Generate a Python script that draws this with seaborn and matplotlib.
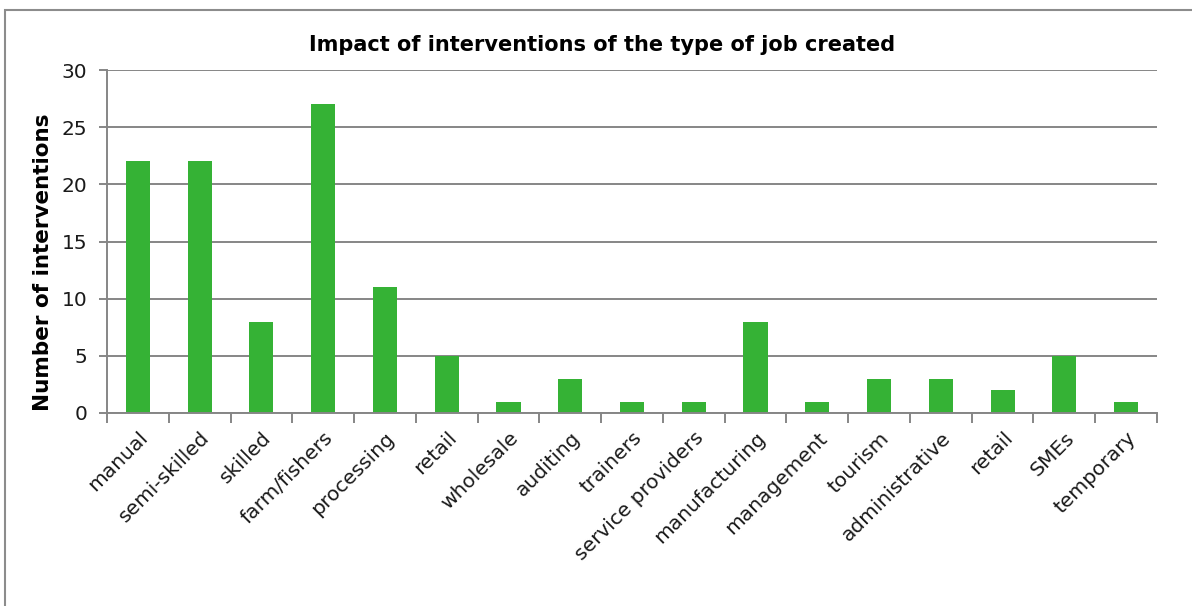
import matplotlib
matplotlib.use("Agg")
import matplotlib.pyplot as plt
import matplotlib.patches as mpatches
import seaborn as sns
import numpy as np
import pandas as pd

categories = ["manual", "semi-skilled", "skilled", "farm/fishers", "processing",
              "retail", "wholesale", "auditing", "trainers", "service providers",
              "manufacturing", "management", "tourism", "administrative", "retail",
              "SMEs", "temporary"]
counts = [22, 22, 8, 27, 11, 5, 1, 3, 1, 1, 8, 1, 3, 3, 2, 5, 1]
y_ticks = [0, 5, 10, 15, 20, 25, 30]

title = "Impact of interventions of the type of job created"
y_label = "Number of interventions"

bar_color = "#35B235"
grid_color = "#868686"

sns.set_theme(style="white")
plt.rcParams["font.family"] = ["DejaVu Sans"]

df = pd.DataFrame({"pos": np.arange(len(categories)), "count": counts})

fig = plt.figure(figsize=(11.92, 6.06), dpi=100)
ax = fig.add_axes([107 / 1192, 1 - 413 / 606, 1050 / 1192, 343 / 606])

sns.barplot(data=df, x="pos", y="count", color=bar_color, width=0.39,
            saturation=1, linewidth=0, edgecolor="none", ax=ax, zorder=3)

ax.set_ylim(0, 30)
ax.set_xlim(-0.5, len(categories) - 0.5)
ax.set_yticks(y_ticks)
ax.set_yticklabels([str(t) for t in y_ticks], fontsize=14.5, color="#1a1a1a")
ax.set_xticks(np.arange(len(categories)))
ax.set_xticklabels(categories, rotation=45, ha="right", rotation_mode="anchor",
                   fontsize=14.5, color="#1a1a1a")
ax.set_xlabel("")
ax.set_ylabel("")

# gridlines and axis frame
ax.grid(axis="y", color=grid_color, linewidth=1.4, zorder=0)
ax.set_axisbelow(True)
for side in ["top", "right"]:
    ax.spines[side].set_visible(False)
for side in ["left", "bottom"]:
    ax.spines[side].set_color(grid_color)
    ax.spines[side].set_linewidth(1.4)
    ax.spines[side].set_zorder(4)

ax.tick_params(axis="x", which="major", length=0, pad=11)
ax.set_xticks(np.arange(len(categories) + 1) - 0.5, minor=True)
ax.tick_params(axis="x", which="minor", length=7, width=1.4, color=grid_color,
               direction="out", bottom=True)
ax.tick_params(axis="y", which="major", length=6, width=1.4, color=grid_color,
               direction="out", left=True, pad=8)

fig.text(0.505, 1 - 45 / 606, title, ha="center", va="center",
         fontsize=15, fontweight="bold", color="#000000")
fig.text(43 / 1192, 1 - 262 / 606, y_label, ha="center", va="center",
         rotation=90, fontsize=15.5, fontweight="bold", color="#000000")

# chart area border
fig.patches.append(mpatches.Rectangle((5 / 1192, -0.05), 1.2, 1 - 10 / 606 + 0.05,
                                      transform=fig.transFigure, fill=False,
                                      edgecolor="#8c8c8c", linewidth=1.5))

fig.savefig("out.png", dpi=100, facecolor="white")
